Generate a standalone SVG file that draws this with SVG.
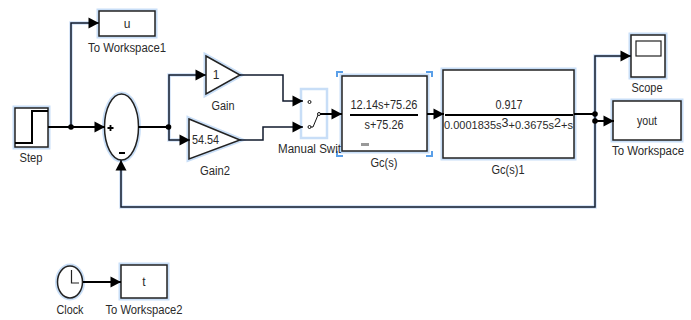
<svg xmlns="http://www.w3.org/2000/svg" width="691" height="320" viewBox="0 0 691 320">
<style>
text{font-family:"Liberation Sans",Arial,sans-serif;font-size:12px;fill:#2a2a2a;text-anchor:middle}
.b{fill:#fff;stroke:#222;stroke-width:1.500}
.g{fill:none;stroke:#c8def7;stroke-width:5}
.w{fill:none;stroke:#101a2c;stroke-width:1.500}
.t{fill:none;stroke:#000;stroke-width:2}
.gw{fill:none;stroke:#cfe1f7;stroke-width:3.500}
.j{fill:#000}
.c{fill:none;stroke:#5a9fe8;stroke-width:2}
</style>
<defs>
<marker id="a" markerUnits="userSpaceOnUse" markerWidth="14" markerHeight="14" refX="11" refY="6" orient="auto"><path d="M0.500 0.500L11 6L0.500 11.500Z" fill="#000"/></marker>
</defs>
<g id="step">
<rect class="g" x="15" y="108" width="33" height="39"/>
<rect class="b" x="15" y="108" width="33" height="39"/>
<path d="M15 143H32V111H48" fill="none" stroke="#000" stroke-width="2"/>
<text x="31" y="162" textLength="23" lengthAdjust="spacingAndGlyphs">Step</text>
</g>
<g id="to-workspace1">
<rect class="g" x="99" y="11" width="56" height="25"/>
<rect class="b" x="99" y="11" width="56" height="25"/>
<text x="127" y="28">u</text>
<text x="127" y="52" textLength="78" lengthAdjust="spacingAndGlyphs">To Workspace1</text>
</g>
<g id="sum">
<ellipse class="g" cx="121.500" cy="127" rx="17" ry="33"/>
<ellipse class="b" cx="121.500" cy="127" rx="17" ry="33"/>
<path d="M107.500 128H113.500M110.500 125V131M119 153H125" stroke="#000" stroke-width="1.800" fill="none"/>
</g>
<g id="gain">
<path class="g" d="M206 56L240 75L206 94Z"/>
<path class="b" d="M206 56L240 75L206 94Z"/>
<text x="216" y="79">1</text>
<text x="223" y="110" textLength="23" lengthAdjust="spacingAndGlyphs">Gain</text>
</g>
<g id="gain2">
<path class="g" d="M189 119L240 140L189 159Z"/>
<path class="b" d="M189 119L240 140L189 159Z"/>
<text x="205.500" y="144" textLength="27" lengthAdjust="spacingAndGlyphs">54.54</text>
<text x="215" y="175" textLength="30" lengthAdjust="spacingAndGlyphs">Gain2</text>
</g>
<g id="gc-s">
<rect class="g" x="342" y="76" width="85" height="75"/>
<rect class="b" x="342" y="76" width="85" height="75"/>
<path class="c" d="M337 77V72H343M426 72H432V77M337 151V156H343M426 156H432V151"/>
<text x="384" y="109" textLength="67" lengthAdjust="spacingAndGlyphs">12.14s+75.26</text>
<path d="M350 115H418" stroke="#000" stroke-width="2"/>
<text x="384" y="129" textLength="39" lengthAdjust="spacingAndGlyphs">s+75.26</text>
<rect x="361" y="143" width="8" height="3" fill="#999"/>
<text x="384" y="167" textLength="27" lengthAdjust="spacingAndGlyphs">Gc(s)</text>
</g>
<g id="manual-switch">
<rect x="301" y="89" width="26" height="49" fill="#fff" stroke="#c8def7" stroke-width="2.500"/>
<path d="M310 127H313L318 115" stroke="#111" stroke-width="1" fill="none"/>
<circle cx="309.500" cy="102" r="1.500" fill="#fff" stroke="#111"/>
<circle cx="309.500" cy="127" r="1.500" fill="#fff" stroke="#111"/>
<circle cx="319" cy="114" r="1.500" fill="#fff" stroke="#111"/>
<text x="309.500" y="153" textLength="63" lengthAdjust="spacingAndGlyphs">Manual Swit</text>
</g>
<g id="gc-s1">
<rect class="g" x="443" y="70" width="131" height="88"/>
<rect class="b" x="443" y="70" width="131" height="88"/>
<text x="509" y="109" textLength="27" lengthAdjust="spacingAndGlyphs">0.917</text>
<path d="M445 115H573" stroke="#000" stroke-width="2"/>
<text x="444" y="129" style="text-anchor:start;font-size:11px">0.0001835s<tspan dy="-2" style="font-size:12.500px">3</tspan><tspan dy="2">+0.3675s</tspan><tspan dy="-2" style="font-size:12.500px">2</tspan><tspan dy="2">+s</tspan></text>
<text x="508" y="174" textLength="33" lengthAdjust="spacingAndGlyphs">Gc(s)1</text>
</g>
<g id="scope">
<rect class="g" x="631" y="35" width="34" height="42"/>
<rect class="b" x="631" y="35" width="34" height="42"/>
<rect x="636" y="41" width="25" height="15" fill="#fff" stroke="#222" stroke-width="1.200"/>
<text x="647" y="92" textLength="31" lengthAdjust="spacingAndGlyphs">Scope</text>
</g>
<g id="to-workspace">
<rect class="g" x="613" y="101" width="68" height="39"/>
<rect class="b" x="613" y="101" width="68" height="39"/>
<text x="647" y="125" textLength="20" lengthAdjust="spacingAndGlyphs">yout</text>
<text x="648" y="155" textLength="72" lengthAdjust="spacingAndGlyphs">To Workspace</text>
</g>
<g id="clock">
<ellipse class="g" cx="70" cy="282" rx="12.500" ry="16"/>
<ellipse class="b" cx="70" cy="282" rx="12.500" ry="16"/>
<path d="M71.500 270V283H79" fill="none" stroke="#222" stroke-width="1.200"/>
<text x="70" y="314" textLength="27" lengthAdjust="spacingAndGlyphs">Clock</text>
</g>
<g id="to-workspace2">
<rect class="g" x="121" y="265" width="46" height="33"/>
<rect class="b" x="121" y="265" width="46" height="33"/>
<text x="144" y="286">t</text>
<text x="144" y="314" textLength="77" lengthAdjust="spacingAndGlyphs">To Workspace2</text>
</g>
<g id="connectors">
<path class="gw" d="M71 125V23H92M169 125V75H198M169 129V140H182M121 163V207H595V56H622"/>
<path class="w" d="M71 127V23H99" marker-end="url(#a)"/>
<path class="t" d="M48 127H105" marker-end="url(#a)"/>
<path class="t" d="M138 127H169"/>
<path class="w" d="M169 127V75H206" marker-end="url(#a)"/>
<path class="w" d="M169 127V140H190" marker-end="url(#a)"/>
<path class="w" d="M240 75H283V101H303" marker-end="url(#a)"/>
<path class="w" d="M240 140H263V127H303" marker-end="url(#a)"/>
<path class="t" d="M320 114H342" marker-end="url(#a)"/>
<path class="t" d="M427 114H444" marker-end="url(#a)"/>
<path class="t" d="M574 114H595"/>
<path class="w" d="M595 114V56H631" marker-end="url(#a)"/>
<path class="t" d="M595 121H614" marker-end="url(#a)"/>
<path class="w" d="M595 114V207H121V160" marker-end="url(#a)"/>
<path class="t" d="M83 282H121" marker-end="url(#a)"/>
<circle class="j" cx="71" cy="127" r="2.800"/>
<circle class="j" cx="168.500" cy="127" r="2.800"/>
<circle class="j" cx="595" cy="114" r="2.800"/>
<circle class="j" cx="595" cy="121" r="2.800"/>
</g>
</svg>
